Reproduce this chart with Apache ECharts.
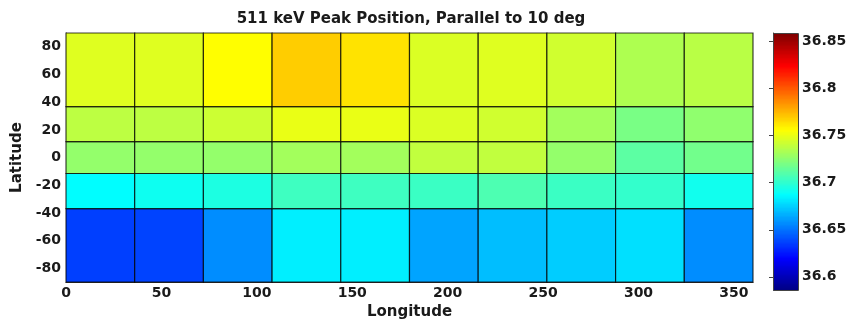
<!DOCTYPE html>
<html>
<head>
<meta charset="utf-8">
<script src="https://cdn.jsdelivr.net/npm/echarts@6/dist/echarts.min.js"></script>
<style>html,body{margin:0;padding:0;background:#fff}#c{width:852px;height:325px}</style>
</head>
<body>
<div id="c"></div>
<script>
// Longitude bin edges (deg) and latitude bin edges (deg, equal-area in sin(lat))
var lonEdges = [0, 36, 72, 108, 144, 180, 216, 252, 288, 324, 360];
var latEdges = [-90, -36.87, -11.54, 11.54, 36.87, 90];
// Peak position per latitude band, south to north, one value per longitude bin
var bandS90toS37 = [36.637, 36.638, 36.658, 36.684, 36.684, 36.664, 36.671, 36.675, 36.680, 36.658];
var bandS37toS12 = [36.688, 36.692, 36.696, 36.705, 36.705, 36.704, 36.709, 36.704, 36.702, 36.693];
var bandS12toN12 = [36.728, 36.728, 36.728, 36.732, 36.732, 36.740, 36.740, 36.728, 36.713, 36.719];
var bandN12toN37 = [36.739, 36.739, 36.743, 36.751, 36.751, 36.747, 36.744, 36.732, 36.721, 36.727];
var bandN37toN90 = [36.748, 36.748, 36.757, 36.770, 36.764, 36.747, 36.748, 36.744, 36.735, 36.738];
var bands = [bandS90toS37, bandS37toS12, bandS12toN12, bandN12toN37, bandN37toN90];
var xTicks = [0, 50, 100, 150, 200, 250, 300, 350];
var yTicks = [-80, -60, -40, -20, 0, 20, 40, 60, 80];
var cbTicks = [36.6, 36.65, 36.7, 36.75, 36.8, 36.85];
var cMin = 36.586, cMax = 36.859;
var jet = ['#00007F', '#0000FF', '#007FFF', '#00FFFF', '#7FFF7F', '#FFFF00', '#FF7F00', '#FF0000', '#7F0000'];

var cells = [];
bands.forEach(function (vals, j) {
  vals.forEach(function (v, i) {
    cells.push([lonEdges[i], lonEdges[i + 1], latEdges[j], latEdges[j + 1], v]);
  });
});
var cbData = [];
for (var k = 0; k < 200; k++) {
  var a = cMin + (cMax - cMin) * k / 200, b = cMin + (cMax - cMin) * (k + 1) / 200;
  cbData.push([a, b, (a + b) / 2]);
}

var FONT = 'DejaVu Sans';
var TXT = '#1a1a1a';
var chart = echarts.init(document.getElementById('c'), null, {renderer: 'canvas'});
chart.setOption({
  animation: false,
  backgroundColor: '#fff',
  title: {
    text: '511 keV Peak Position, Parallel to 10 deg',
    left: 406, top: 7, textAlign: 'center',
    textStyle: {fontFamily: FONT, fontSize: 15, fontWeight: 'bold', color: TXT}
  },
  grid: [
    {left: 66, top: 33, width: 687, height: 257, show: false},
    {left: 773, top: 33, width: 25, height: 257, show: false}
  ],
  xAxis: [
    {
      type: 'value', gridIndex: 0, min: 0, max: 360,
      name: 'Longitude', nameLocation: 'middle', nameGap: 21,
      nameTextStyle: {fontFamily: FONT, fontSize: 15, fontWeight: 'bold', color: TXT},
      axisLine: {show: true, onZero: false, lineStyle: {color: '#444', width: 1}},
      axisTick: {show: true, inside: true, length: 4, customValues: xTicks, lineStyle: {color: '#444'}},
      axisLabel: {customValues: xTicks, margin: 4, fontFamily: FONT, fontSize: 14, fontWeight: 'bold', color: TXT},
      splitLine: {show: false}
    },
    {
      type: 'value', gridIndex: 1, min: 0, max: 1, show: false
    }
  ],
  yAxis: [
    {
      type: 'value', gridIndex: 0, min: -90, max: 90,
      name: 'Latitude', nameLocation: 'middle', nameGap: 41, nameRotate: 90,
      nameTextStyle: {fontFamily: FONT, fontSize: 15, fontWeight: 'bold', color: TXT},
      axisLine: {show: true, onZero: false, lineStyle: {color: '#444', width: 1}},
      axisTick: {show: true, inside: true, length: 4, customValues: yTicks, lineStyle: {color: '#444'}},
      axisLabel: {customValues: yTicks, margin: 5, fontFamily: FONT, fontSize: 14, fontWeight: 'bold', color: TXT},
      splitLine: {show: false}
    },
    {
      type: 'value', gridIndex: 1, min: cMin, max: cMax, position: 'right',
      axisLine: {show: true, lineStyle: {color: '#444', width: 1}},
      axisTick: {show: true, inside: true, length: 4, customValues: cbTicks, lineStyle: {color: '#444'}},
      axisLabel: {customValues: cbTicks, margin: 4, fontFamily: FONT, fontSize: 14, fontWeight: 'bold', color: TXT,
        formatter: function (v) { return String(+v.toFixed(2)); }},
      splitLine: {show: false}
    }
  ],
  visualMap: [
    {type: 'continuous', show: false, min: cMin, max: cMax, dimension: 4, seriesIndex: 0, inRange: {color: jet}},
    {type: 'continuous', show: false, min: cMin, max: cMax, dimension: 2, seriesIndex: 1, inRange: {color: jet}}
  ],
  series: [
    {
      type: 'custom', xAxisIndex: 0, yAxisIndex: 0, data: cells,
      renderItem: function (params, api) {
        var p0 = api.coord([api.value(0), api.value(3)]);
        var p1 = api.coord([api.value(1), api.value(2)]);
        return {
          type: 'rect',
          shape: {x: p0[0], y: p0[1], width: p1[0] - p0[0], height: p1[1] - p0[1]},
          style: {fill: api.visual('color'), stroke: 'rgba(0,0,0,0.75)', lineWidth: 1.2}
        };
      }
    },
    {
      type: 'custom', xAxisIndex: 1, yAxisIndex: 1, data: cbData, z: 1,
      renderItem: function (params, api) {
        var p0 = api.coord([0, api.value(1)]);
        var p1 = api.coord([1, api.value(0)]);
        return {
          type: 'rect',
          shape: {x: p0[0], y: Math.floor(p0[1]), width: p1[0] - p0[0], height: Math.ceil(p1[1]) - Math.floor(p0[1]) + 0.5},
          style: {fill: api.visual('color')}
        };
      }
    },
    {
      type: 'custom', xAxisIndex: 1, yAxisIndex: 1, data: [[0]], z: 3, silent: true,
      renderItem: function (params, api) {
        var p0 = api.coord([0, cMax]);
        var p1 = api.coord([1, cMin]);
        return {
          type: 'rect',
          shape: {x: p0[0] + 0.5, y: p0[1] + 0.5, width: p1[0] - p0[0], height: p1[1] - p0[1]},
          style: {fill: null, stroke: '#444', lineWidth: 1}
        };
      }
    }
  ]
});
</script>
</body>
</html>
